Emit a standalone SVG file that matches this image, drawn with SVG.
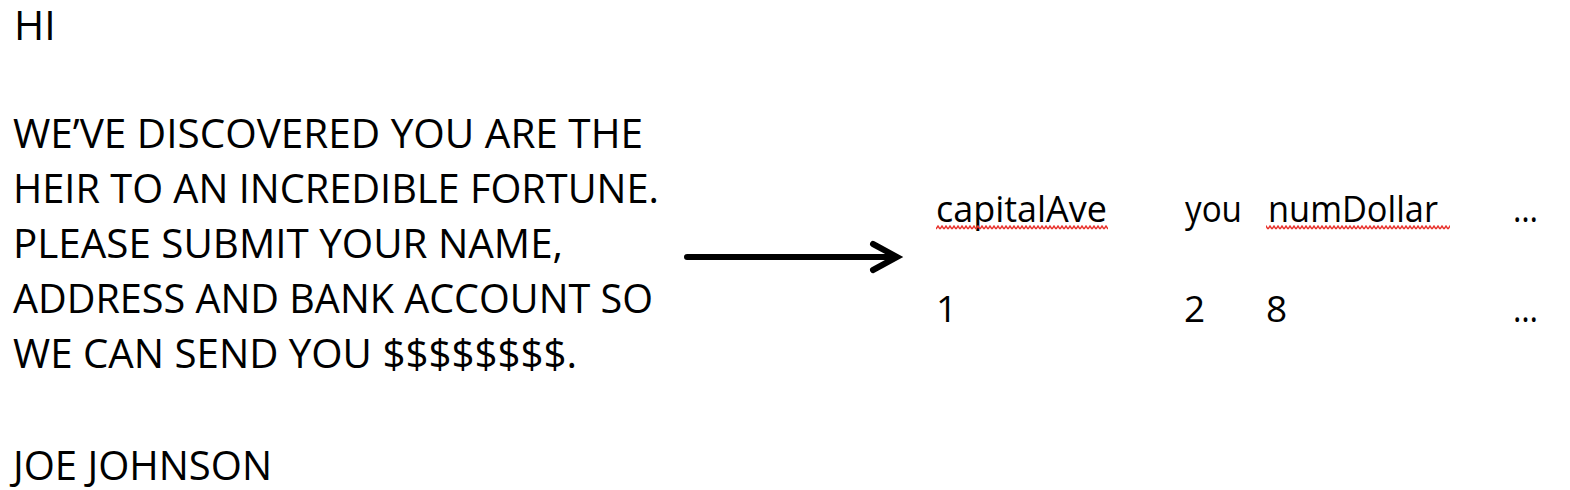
<svg xmlns="http://www.w3.org/2000/svg" width="1570" height="490" viewBox="0 0 1570 490">
<style>
.t{font-family:"Open Sans","Liberation Sans",sans-serif;fill:#000;font-weight:500;}
.big{font-size:41px;}
.sm{font-size:37px;}
.ln{stroke:#000;stroke-width:6;fill:none;stroke-linecap:round;}
</style>
<defs>
<pattern id="sq" patternUnits="userSpaceOnUse" x="0" y="225" width="4" height="5">
<polyline points="0,4 2,1 4,4" fill="none" stroke="#e8322c" stroke-width="1.4"/>
</pattern>
</defs>
<rect width="1570" height="490" fill="#fff"/>
<g id="email">
<text class="t big" x="14" y="40">HI</text>
<text class="t big" x="13" y="148" textLength="630" lengthAdjust="spacingAndGlyphs">WE’VE DISCOVERED YOU ARE THE</text>
<text class="t big" x="13" y="203" textLength="646" lengthAdjust="spacingAndGlyphs">HEIR TO AN INCREDIBLE FORTUNE.</text>
<text class="t big" x="13" y="258" textLength="550" lengthAdjust="spacingAndGlyphs">PLEASE SUBMIT YOUR NAME,</text>
<text class="t big" x="13" y="313" textLength="640" lengthAdjust="spacingAndGlyphs">ADDRESS AND BANK ACCOUNT SO</text>
<text class="t big" x="13" y="368" textLength="564" lengthAdjust="spacingAndGlyphs">WE CAN SEND YOU $$$$$$$$.</text>
<text class="t big" x="13" y="480" textLength="259" lengthAdjust="spacingAndGlyphs">JOE JOHNSON</text>
</g>
<g id="connectors">
<line class="ln" x1="687" y1="257" x2="895" y2="257"/>
<polyline class="ln" points="873,244 897,257 873,270" stroke-linejoin="miter"/>
</g>
<g id="features">
<text class="t sm" x="936" y="222" textLength="171" lengthAdjust="spacingAndGlyphs">capitalAve</text>
<rect x="936" y="225" width="172" height="5" fill="url(#sq)"/>
<text class="t sm" x="1185" y="222" textLength="57" lengthAdjust="spacingAndGlyphs">you</text>
<text class="t sm" x="1268" y="222" textLength="170" lengthAdjust="spacingAndGlyphs">numDollar</text>
<rect x="1266" y="225" width="184" height="5" fill="url(#sq)"/>
<text class="t sm" x="1513" y="222" textLength="25" lengthAdjust="spacingAndGlyphs">…</text>
<text class="t sm" x="936" y="322">1</text>
<text class="t sm" x="1184" y="322">2</text>
<text class="t sm" x="1266" y="322">8</text>
<text class="t sm" x="1513" y="322" textLength="25" lengthAdjust="spacingAndGlyphs">…</text>
</g>
</svg>
